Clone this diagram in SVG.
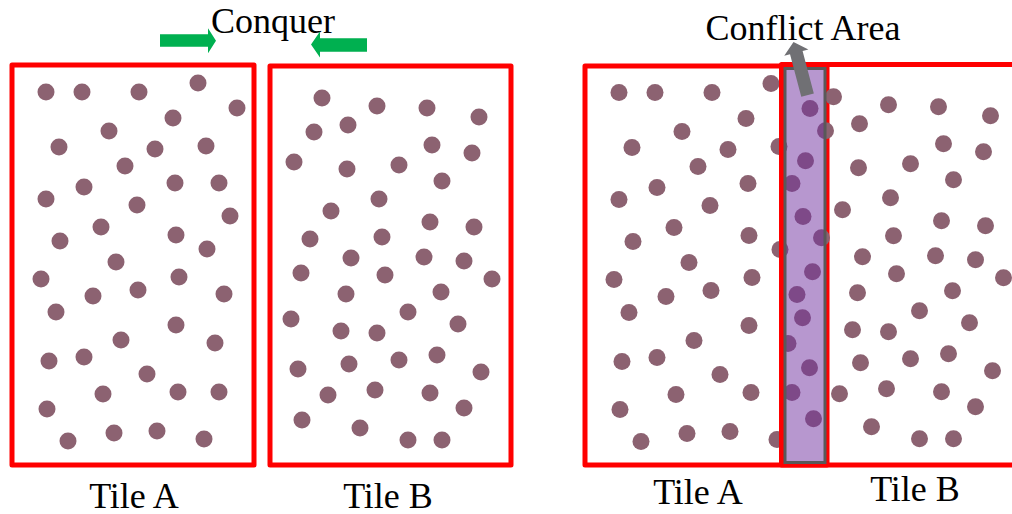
<svg xmlns="http://www.w3.org/2000/svg" xmlns:xlink="http://www.w3.org/1999/xlink" width="1012" height="514" viewBox="0 0 1012 514">
<style>
.tile{fill:none;stroke:#FF0000;stroke-width:5;stroke-linejoin:round}
.dot{fill:#8C6271}
.lbl{font-family:"Liberation Serif","Times New Roman",serif;font-size:36px;fill:#000;text-anchor:middle}
.green{fill:#00B050}
.conflict{fill:#7030A0;fill-opacity:0.5;stroke:#595959;stroke-width:3}
</style>
<defs>
<g id="dotsA" class="dot">
<circle cx="46" cy="92" r="8.5"/><circle cx="82" cy="92" r="8.5"/><circle cx="139" cy="92" r="8.5"/><circle cx="198" cy="83" r="8.5"/><circle cx="237" cy="108" r="8.5"/><circle cx="173" cy="118" r="8.5"/><circle cx="109" cy="131" r="8.5"/><circle cx="59" cy="147" r="8.5"/><circle cx="155" cy="149" r="8.5"/><circle cx="206" cy="146" r="8.5"/><circle cx="125" cy="166" r="8.5"/><circle cx="84" cy="187" r="8.5"/><circle cx="175" cy="183" r="8.5"/><circle cx="219" cy="183" r="8.5"/><circle cx="46" cy="199" r="8.5"/><circle cx="137" cy="205" r="8.5"/><circle cx="230" cy="216" r="8.5"/><circle cx="101" cy="227" r="8.5"/><circle cx="176" cy="235" r="8.5"/><circle cx="60" cy="241" r="8.5"/><circle cx="207" cy="249" r="8.5"/><circle cx="116" cy="262" r="8.5"/><circle cx="41" cy="279" r="8.5"/><circle cx="179" cy="277" r="8.5"/><circle cx="93" cy="296" r="8.5"/><circle cx="138" cy="290" r="8.5"/><circle cx="224" cy="294" r="8.5"/><circle cx="56" cy="312" r="8.5"/><circle cx="176" cy="325" r="8.5"/><circle cx="121" cy="340" r="8.5"/><circle cx="215" cy="343" r="8.5"/><circle cx="49" cy="361" r="8.5"/><circle cx="84" cy="357" r="8.5"/><circle cx="147" cy="374" r="8.5"/><circle cx="103" cy="394" r="8.5"/><circle cx="178" cy="392" r="8.5"/><circle cx="219" cy="392" r="8.5"/><circle cx="47" cy="409" r="8.5"/><circle cx="68" cy="441" r="8.5"/><circle cx="114" cy="433" r="8.5"/><circle cx="157" cy="431" r="8.5"/><circle cx="204" cy="439" r="8.5"/>
</g>
<g id="dotsB" class="dot">
<circle cx="322" cy="98" r="8.5"/><circle cx="377" cy="106" r="8.5"/><circle cx="427" cy="108" r="8.5"/><circle cx="479" cy="117" r="8.5"/><circle cx="314" cy="132" r="8.5"/><circle cx="348" cy="125" r="8.5"/><circle cx="432" cy="145" r="8.5"/><circle cx="472" cy="153" r="8.5"/><circle cx="294" cy="162" r="8.5"/><circle cx="347" cy="169" r="8.5"/><circle cx="399" cy="165" r="8.5"/><circle cx="442" cy="181" r="8.5"/><circle cx="379" cy="199" r="8.5"/><circle cx="331" cy="211" r="8.5"/><circle cx="430" cy="222" r="8.5"/><circle cx="474" cy="227" r="8.5"/><circle cx="310" cy="239" r="8.5"/><circle cx="382" cy="237" r="8.5"/><circle cx="351" cy="258" r="8.5"/><circle cx="424" cy="257" r="8.5"/><circle cx="464" cy="261" r="8.5"/><circle cx="301" cy="273" r="8.5"/><circle cx="385" cy="275" r="8.5"/><circle cx="492" cy="279" r="8.5"/><circle cx="346" cy="294" r="8.5"/><circle cx="441" cy="292" r="8.5"/><circle cx="408" cy="312" r="8.5"/><circle cx="291" cy="319" r="8.5"/><circle cx="341" cy="331" r="8.5"/><circle cx="377" cy="333" r="8.5"/><circle cx="458" cy="324" r="8.5"/><circle cx="298" cy="369" r="8.5"/><circle cx="349" cy="364" r="8.5"/><circle cx="399" cy="360" r="8.5"/><circle cx="437" cy="355" r="8.5"/><circle cx="481" cy="372" r="8.5"/><circle cx="328" cy="395" r="8.5"/><circle cx="375" cy="390" r="8.5"/><circle cx="430" cy="393" r="8.5"/><circle cx="464" cy="408" r="8.5"/><circle cx="302" cy="420" r="8.5"/><circle cx="360" cy="428" r="8.5"/><circle cx="408" cy="440" r="8.5"/><circle cx="442" cy="440" r="8.5"/>
</g>
</defs>
<rect width="1012" height="514" fill="#FFFFFF"/>
<g id="left-tileA">
<rect class="tile" x="12" y="65" width="242" height="400"/>
<use href="#dotsA" xlink:href="#dotsA"/>
<text class="lbl" x="134" y="508">Tile A</text>
</g>
<g id="left-tileB">
<rect class="tile" x="270" y="66" width="241" height="399"/>
<use href="#dotsB" xlink:href="#dotsB"/>
<text class="lbl" x="388" y="508">Tile B</text>
</g>
<g id="conquer">
<text class="lbl" x="273" y="33">Conquer</text>
<polygon class="green" points="160,34.3 208,34.3 208,28.3 216,40.8 208,53.3 208,46.7 160,46.7"/>
<polygon class="green" points="367,38.3 320,38.3 320,31.5 311,44.5 320,57.5 320,51.7 367,51.7"/>
</g>
<g id="right-tileA">
<rect class="tile" x="585" y="66" width="242" height="399"/>
<use href="#dotsA" xlink:href="#dotsA" transform="translate(573,0.5)"/>
<text class="lbl" x="698" y="504">Tile A</text>
</g>
<g id="right-tileB">
<rect class="tile" x="781.5" y="64.5" width="241" height="400.5"/>
<use href="#dotsB" xlink:href="#dotsB" transform="translate(511.5,-1.2)"/>
<text class="lbl" x="915" y="501">Tile B</text>
</g>
<g id="conflict-area">
<rect class="conflict" x="785" y="68.5" width="40" height="394"/>
<polygon fill="#707074" transform="translate(793.5,42) rotate(-14.8)" points="0,0 12.5,11 6.5,11 6.5,55 -6.5,55 -6.5,11 -12.5,11"/>
<text class="lbl" x="803" y="40">Conflict Area</text>
</g>
</svg>
